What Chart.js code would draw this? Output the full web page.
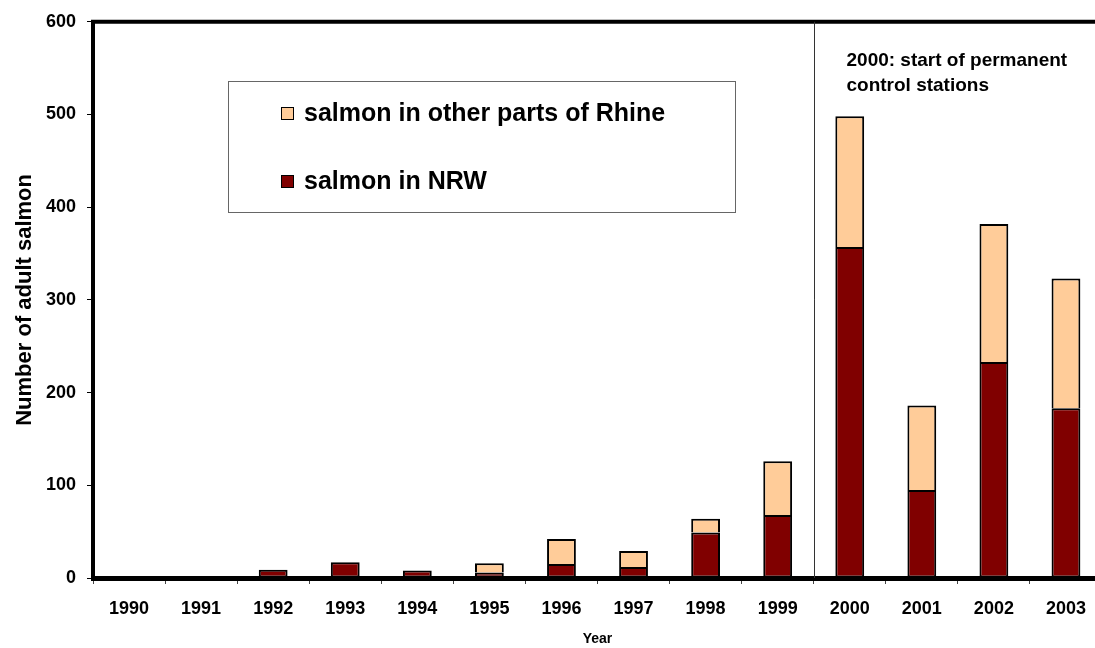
<!DOCTYPE html>
<html>
<head>
<meta charset="utf-8">
<script src="https://cdn.jsdelivr.net/npm/chart.js@4"></script>
<style>
    html, body { margin: 0; padding: 0; background: #fff; overflow: hidden; }
    #wrap { position: relative; width: 1102px; height: 648px; }
</style>
</head>
<body>
<div id="wrap"><canvas id="salmonChart"></canvas></div>
<script>
// Adult salmon counts
const years = ['1990', '1991', '1992', '1993', '1994', '1995', '1996',
               '1997', '1998', '1999', '2000', '2001', '2002', '2003'];
const salmonNRW = [0, 1, 9, 17, 8, 6, 15, 12, 49, 68, 357, 95, 233, 183];
const salmonOtherRhine = [null, null, null, null, null, 10, 27, 17, 15, 58, 141, 91, 149, 140];
const yTicks = [0, 100, 200, 300, 400, 500, 600];

const noteLines = ['2000: start of permanent', 'control stations'];
const FONT = '"Liberation Sans", Arial, sans-serif';

// Frame top line, the 2000 divider, the note and the boxed legend
const extrasPlugin = {
    id: 'extras',
    afterDraw(chart) {
        const ctx = chart.ctx;
        const area = chart.chartArea;
        const x = chart.scales.x;

        ctx.save();
        // top border
        ctx.strokeStyle = '#000';
        ctx.lineWidth = 4;
        ctx.beginPath();
        ctx.moveTo(area.left - 2, area.top);
        ctx.lineTo(area.right, area.top);
        ctx.stroke();

        // divider between 1999 and 2000
        const divX = Math.round((x.getPixelForValue(9) + x.getPixelForValue(10)) / 2) + 0.5;
        ctx.strokeStyle = '#333';
        ctx.lineWidth = 1;
        ctx.beginPath();
        ctx.moveTo(divX, area.top);
        ctx.lineTo(divX, area.bottom);
        ctx.stroke();

        // note
        ctx.fillStyle = '#000';
        ctx.font = 'bold 19px ' + FONT;
        ctx.textBaseline = 'middle';
        ctx.textAlign = 'left';
        noteLines.forEach((line, i) => {
            ctx.fillText(line, divX + 32, 61 + i * 25);
        });

        // legend box
        ctx.strokeStyle = '#666';
        ctx.lineWidth = 1;
        ctx.strokeRect(228.5, 81.5, 507, 131);

        const items = [chart.data.datasets[1], chart.data.datasets[0]];
        ctx.font = 'bold 25px ' + FONT;
        items.forEach((ds, i) => {
            const cy = 113 + i * 68;
            ctx.fillStyle = ds.backgroundColor;
            ctx.fillRect(281, cy - 6, 12, 12);
            ctx.strokeStyle = '#000';
            ctx.strokeRect(281.5, cy - 5.5, 12, 12);
            ctx.fillStyle = '#000';
            ctx.fillText(ds.label, 304, cy + 1);
        });
        ctx.restore();
    }
};

const ctx = document.getElementById('salmonChart');
new Chart(ctx, {
    type: 'bar',
    data: {
        labels: years,
        datasets: [{
            label: 'salmon in NRW',
            data: salmonNRW,
            backgroundColor: '#800000',
            borderColor: '#000',
            borderWidth: 2,
            borderSkipped: false
        }, {
            label: 'salmon in other parts of Rhine',
            data: salmonOtherRhine,
            backgroundColor: '#FFCC99',
            borderColor: '#000',
            borderWidth: 2,
            borderSkipped: 'start'
        }]
    },
    options: {
        responsive: true,
        maintainAspectRatio: false,
        animation: false,
        devicePixelRatio: 1,
        categoryPercentage: 1,
        barPercentage: 0.4,
        layout: {
            padding: { top: 21, left: 0, right: 0, bottom: 0 }
        },
        plugins: {
            legend: { display: false },
            tooltip: { enabled: false }
        },
        scales: {
            x: {
                stacked: true,
                offset: true,
                afterFit: function(scale) { scale.height = 70; },
                border: { color: '#000', width: 5 },
                grid: {
                    offset: true,
                    drawOnChartArea: false,
                    tickLength: 6,
                    color: '#444'
                },
                ticks: {
                    color: '#000',
                    padding: 14,
                    maxRotation: 0,
                    font: { family: FONT, size: 18, weight: 'bold' }
                },
                title: {
                    display: true,
                    text: 'Year',
                    color: '#000',
                    padding: { top: 6, bottom: 0 },
                    font: { family: FONT, size: 14, weight: 'bold' }
                }
            },
            y: {
                stacked: true,
                min: 0,
                max: 600,
                afterFit: function(scale) { scale.width = 93; },
                afterBuildTicks: function(scale) {
                    scale.ticks = yTicks.map(v => ({ value: v }));
                },
                border: { color: '#000', width: 4 },
                grid: {
                    drawOnChartArea: false,
                    tickLength: 6,
                    color: '#000'
                },
                ticks: {
                    color: '#000',
                    padding: 11,
                    font: { family: FONT, size: 18, weight: 'bold' }
                },
                title: {
                    display: true,
                    text: 'Number of adult salmon',
                    color: '#000',
                    padding: { top: 12, bottom: 0 },
                    font: { family: FONT, size: 22, weight: 'bold' }
                }
            }
        }
    },
    plugins: [extrasPlugin]
});
</script>
</body>
</html>
